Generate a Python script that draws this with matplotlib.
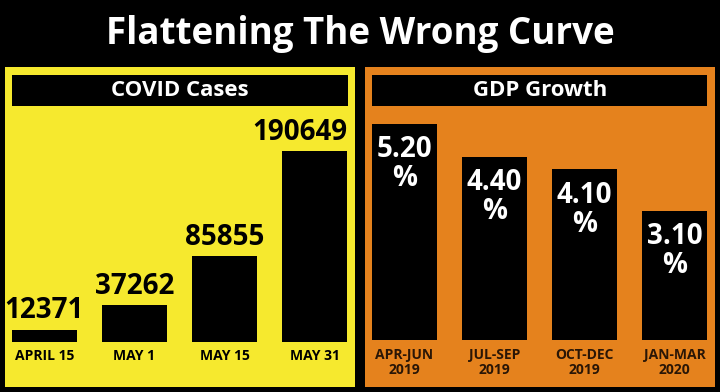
import matplotlib
matplotlib.use("Agg")
import matplotlib.pyplot as plt
from matplotlib.patches import Rectangle

plt.rcParams['font.family'] = ['Open Sans', 'DejaVu Sans']

title = "Flattening The Wrong Curve"
covid_title = "COVID Cases"
covid_dates = ["APRIL 15", "MAY 1", "MAY 15", "MAY 31"]
covid_cases = [12371, 37262, 85855, 190649]

gdp_title = "GDP Growth"
gdp_quarters = ["APR-JUN\n2019", "JUL-SEP\n2019", "OCT-DEC\n2019", "JAN-MAR\n2020"]
gdp_growth = [5.20, 4.40, 4.10, 3.10]

W, H = 720, 392
YELLOW = "#F6E92E"
ORANGE = "#E5821D"

fig = plt.figure(figsize=(W / 100, H / 100), dpi=100)
fig.patch.set_facecolor("black")


def fr(x0, y0, x1, y1):
    """pixel box (top-down y) -> figure fraction [l, b, w, h]"""
    return [x0 / W, 1 - y1 / H, (x1 - x0) / W, (y1 - y0) / H]


def rect(x0, y0, x1, y1, color):
    l, b, w, h = fr(x0, y0, x1, y1)
    fig.patches.append(Rectangle((l, b), w, h, transform=fig.transFigure,
                                 facecolor=color, edgecolor="none", zorder=-5))


fig.text(0.5, 1 - 34 / H, title, color="white", fontsize=26.5, fontweight="bold",
         ha="center", va="center")

# panels
rect(5, 67, 355, 387, YELLOW)
rect(12, 75, 348, 106, "black")
fig.text(180 / W, 1 - 90 / H, covid_title, color="white", fontsize=16,
         fontweight="bold", ha="center", va="center")

rect(365, 67, 715, 387, ORANGE)
rect(372, 75, 707, 106, "black")
fig.text(540 / W, 1 - 90 / H, gdp_title, color="white", fontsize=16,
         fontweight="bold", ha="center", va="center")

bw = 0.72
half = bw / 2

# COVID axes
ax1 = fig.add_axes(fr(12, 110, 347, 342))
ax1.set_zorder(5)
ax1.set_facecolor("none")
x1 = list(range(len(covid_cases)))
ax1.bar(x1, covid_cases, width=bw, color="black")
ax1.set_xlim(-half, len(x1) - 1 + half)
ax1.set_ylim(0, 232000)
for i, v in zip(x1, covid_cases):
    if i == len(x1) - 1:
        ax1.annotate(str(v), (i + half, v), xytext=(0, 3), textcoords="offset points",
                     ha="right", va="bottom", fontsize=20, fontweight="bold", color="black")
    else:
        ax1.annotate(str(v), (i, v), xytext=(0, 3), textcoords="offset points",
                     ha="center", va="bottom", fontsize=20, fontweight="bold", color="black")
ax1.set_xticks(x1)
ax1.set_xticklabels(covid_dates, fontsize=10, fontweight="bold", color="black")
ax1.tick_params(axis="x", length=0, pad=5)
ax1.set_yticks([])
for s in ax1.spines.values():
    s.set_visible(False)

# GDP axes
ax2 = fig.add_axes(fr(372, 110, 707, 340))
ax2.set_zorder(5)
ax2.set_facecolor("none")
x2 = list(range(len(gdp_growth)))
ax2.bar(x2, gdp_growth, width=bw, color="black")
ax2.set_xlim(-half, len(x2) - 1 + half)
ax2.set_ylim(0, 230 / 41.6)
for i, v in zip(x2, gdp_growth):
    ax2.annotate(f"{v:.2f}\n%", (i, v), xytext=(0, -8), textcoords="offset points",
                 ha="center", va="top", fontsize=20, fontweight="bold", color="white",
                 linespacing=1.0)
ax2.set_xticks(x2)
ax2.set_xticklabels(gdp_quarters, fontsize=10, fontweight="bold", color="#2A1606",
                    linespacing=1.05)
ax2.tick_params(axis="x", length=0, pad=6)
ax2.set_yticks([])
for s in ax2.spines.values():
    s.set_visible(False)

fig.savefig("out.png", dpi=100, facecolor="black")
